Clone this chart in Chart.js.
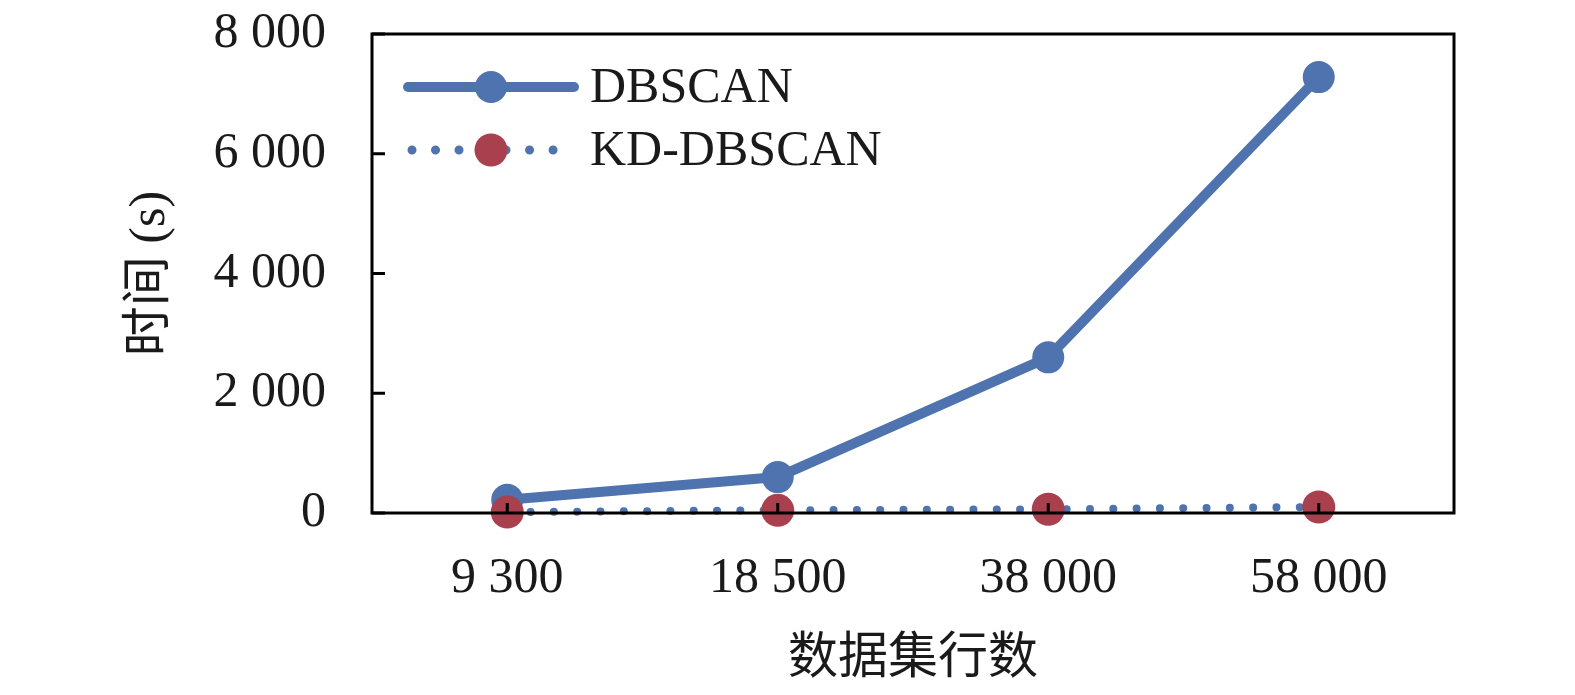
<!DOCTYPE html>
<html>
<head>
<meta charset="utf-8">
<script src="https://cdn.jsdelivr.net/npm/chart.js@4"></script>
<style>
  html, body { margin: 0; padding: 0; background: #fff; }
  canvas { display: block; }
</style>
</head>
<body>
<canvas id="chart" width="1575" height="695"></canvas>
<script>
// data
const categories = ['9 300', '18 500', '38 000', '58 000'];
const dbscanTimes = [220, 600, 2600, 7280];
const kdDbscanTimes = [15, 45, 62, 100];
const yTickValues = [0, 2000, 4000, 6000, 8000];
const yTickLabels = ['0', '2 000', '4 000', '6 000', '8 000'];

const BLUE = '#4E73AF';
const RED = '#A8404E';
const FONT = '"Liberation Serif", "Noto Sans CJK SC", serif';

Chart.defaults.font.family = FONT;
Chart.defaults.font.size = 50;
Chart.defaults.color = '#1a1a1a';

// box round the plot plus small inward tick marks
const frameAndTicks = {
  id: 'frameAndTicks',
  afterDatasetsDraw(chart) {
    const { ctx, chartArea: a, scales: { x, y } } = chart;
    ctx.save();
    ctx.strokeStyle = '#000';
    ctx.lineWidth = 3;
    ctx.strokeRect(a.left, a.top, a.right - a.left, a.bottom - a.top);
    ctx.beginPath();
    x.ticks.forEach((t, i) => {
      const px = x.getPixelForTick(i);
      ctx.moveTo(px, a.bottom);
      ctx.lineTo(px, a.bottom - 10);
    });
    y.ticks.forEach((t, i) => {
      const py = y.getPixelForTick(i);
      ctx.moveTo(a.left, py);
      ctx.lineTo(a.left + 13, py);
    });
    ctx.stroke();
    ctx.restore();
  }
};

// legend drawn as line + marker, inside the plot (top left)
const lineLegend = {
  id: 'lineLegend',
  afterDraw(chart) {
    const { ctx, chartArea: a } = chart;
    ctx.save();
    chart.data.datasets.forEach((ds, i) => {
      const yy = a.top + 53 + i * 63;
      const x0 = a.left + 36, x1 = a.left + 202;
      const mid = (x0 + x1) / 2;
      ctx.strokeStyle = ds.borderColor;
      ctx.lineWidth = ds.legendWidth || ds.borderWidth;
      ctx.lineCap = ds.borderCapStyle || 'butt';
      ctx.setLineDash(ds.legendDash || []);
      ctx.beginPath();
      ctx.moveTo(ds.legendDash ? x0 + 4 : x0, yy);
      ctx.lineTo(x1, yy);
      ctx.stroke();
      ctx.setLineDash([]);
      ctx.fillStyle = ds.pointBackgroundColor;
      ctx.beginPath();
      ctx.arc(mid, yy, ds.pointRadius, 0, Math.PI * 2);
      ctx.fill();
      ctx.fillStyle = '#1a1a1a';
      ctx.font = '50px ' + FONT;
      ctx.textBaseline = 'middle';
      ctx.textAlign = 'left';
      ctx.fillText(ds.label, a.left + 218, yy + 2);
    });
    ctx.restore();
  }
};

new Chart(document.getElementById('chart'), {
  type: 'line',
  data: {
    labels: categories,
    datasets: [
      {
        label: 'DBSCAN',
        data: dbscanTimes,
        borderColor: BLUE,
        borderWidth: 10,
        borderCapStyle: 'round',
        borderJoinStyle: 'round',
        pointRadius: 16,
        pointBorderWidth: 0,
        pointBackgroundColor: BLUE,
        pointHoverRadius: 16,
        tension: 0,
        clip: false,
        order: 2
      },
      {
        label: 'KD-DBSCAN',
        data: kdDbscanTimes,
        borderColor: BLUE,
        borderWidth: 8,
        borderDash: [0.01, 23.3],
        borderCapStyle: 'round',
        legendDash: [0.01, 23.5],
        legendWidth: 9,
        pointRadius: 16.5,
        pointBorderWidth: 0,
        pointBackgroundColor: RED,
        pointHoverRadius: 16.5,
        tension: 0,
        clip: false,
        order: 1
      }
    ]
  },
  options: {
    responsive: false,
    animation: false,
    devicePixelRatio: 1,
    events: [],
    layout: { autoPadding: false, padding: { top: 34, right: 121, left: 0, bottom: 0 } },
    plugins: {
      legend: { display: false },
      tooltip: { enabled: false }
    },
    scales: {
      x: {
        type: 'category',
        offset: true,
        grid: { display: false, drawTicks: false },
        border: { display: false },
        ticks: { padding: 36, maxRotation: 0, autoSkip: false },
        title: {
          display: true,
          text: '数据集行数',
          font: { size: 50 },
          padding: { top: 0, bottom: 5 }
        },
        afterFit(scale) { scale.height = 182; }
      },
      y: {
        min: 0,
        max: 8000,
        grid: { display: false, drawTicks: false },
        border: { display: false },
        ticks: {
          stepSize: 2000,
          padding: 46,
          callback: (v) => {
            const i = yTickValues.indexOf(v);
            return i >= 0 ? yTickLabels[i] : '';
          }
        },
        title: {
          display: true,
          text: '时间 (s)',
          font: { size: 50 },
          padding: { top: 121, bottom: 0 }
        },
        afterFit(scale) {
          scale.width = 372;
          // tick padding is added to the vertical padding too; keep only half a label
          scale.paddingTop = 30;
          scale.paddingBottom = 30;
        }
      }
    }
  },
  plugins: [frameAndTicks, lineLegend]
});
</script>
</body>
</html>
